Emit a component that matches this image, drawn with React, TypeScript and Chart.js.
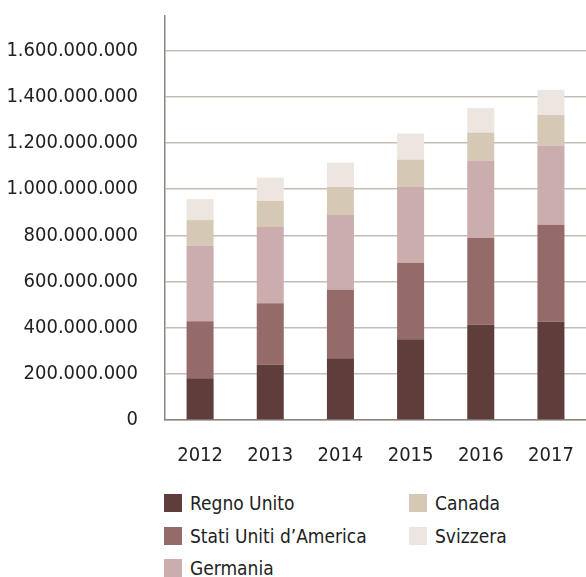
import React, { useEffect, useRef } from "react";
import { Chart, registerables } from "chart.js";

Chart.register(...registerables);

const years = ["2012", "2013", "2014", "2015", "2016", "2017"];
const regnoUnito = [181e6, 239e6, 268e6, 350e6, 413e6, 426e6];
const statiUniti = [247e6, 267e6, 296e6, 331e6, 375e6, 420e6];
const germania = [328e6, 330e6, 324e6, 329e6, 334e6, 343e6];
const canada = [110e6, 113e6, 122e6, 118e6, 123e6, 133e6];
const svizzera = [91e6, 101e6, 105e6, 113e6, 106e6, 108e6];

const yTickValues = [0, 2e8, 4e8, 6e8, 8e8, 1e9, 1.2e9, 1.4e9, 1.6e9];
const yMax = 1.75e9;

const seriesNames = ["Regno Unito", "Stati Uniti d\u2019America", "Germania", "Canada", "Svizzera"];
const seriesColors = ["#5f3d3b", "#956b69", "#cbadae", "#d5c9b5", "#ede6e0"];
const seriesData = [regnoUnito, statiUniti, germania, canada, svizzera];

const FONT = "'DejaVu Sans Condensed', 'Liberation Sans Narrow', sans-serif";

function fmt(v: number): string {
  return Math.round(v).toString().replace(/\B(?=(\d{3})+(?!\d))/g, ".");
}

export default function App() {
  const ref = useRef<HTMLCanvasElement | null>(null);

  useEffect(() => {
    if (!ref.current) return;
    const chart = new Chart(ref.current, {
      type: "bar",
      data: {
        labels: years,
        datasets: seriesNames.map((name, i) => ({
          label: name,
          data: seriesData[i],
          backgroundColor: seriesColors[i],
          borderWidth: 0,
          barPercentage: 0.385,
          categoryPercentage: 1,
        })),
      },
      options: {
        responsive: false,
        animation: false,
        devicePixelRatio: 1,
        layout: { padding: { top: 17, right: 2, left: 0, bottom: 0 } },
        plugins: {
          legend: { display: false },
          tooltip: { enabled: false },
        },
        scales: {
          x: {
            stacked: true,
            grid: { display: false, drawTicks: false },
            border: { color: "#8a8580", width: 1.5 },
            ticks: {
              color: "#222",
              font: { family: FONT, size: 20 },
              padding: 24,
              autoSkip: false,
              maxRotation: 0,
            },
            afterFit: (s: any) => {
              s.height = 50;
            },
          },
          y: {
            stacked: true,
            min: 0,
            max: yMax,
            grid: {
              color: "#c3bdb7",
              lineWidth: 1.5,
              drawTicks: false,
            },
            border: { color: "#8a8580", width: 1.5 },
            ticks: {
              color: "#222",
              font: { family: FONT, size: 20 },
              padding: 27,
              autoSkip: false,
              callback: (v: any) => fmt(Number(v)),
            },
            afterBuildTicks: (s: any) => {
              s.ticks = yTickValues.map((v) => ({ value: v }));
            },
            afterFit: (s: any) => {
              s.width = 165;
            },
          },
        },
      },
    });
    return () => chart.destroy();
  }, []);

  const columns = [[0, 1, 2], [3, 4]];
  const colX = [164, 409];
  const rowY = [493, 526, 558];

  return (
    <div style={{ position: "absolute", left: 0, top: 0, width: 586, height: 577, background: "#fff", overflow: "hidden" }}>
      <canvas ref={ref} width={598} height={493} style={{ position: "absolute", left: 0, top: -23 }} />
      {columns.map((col, ci) =>
        col.map((si, ri) => (
          <div
            key={si}
            style={{
              position: "absolute",
              left: colX[ci],
              top: rowY[ri],
              height: 19,
              display: "flex",
              alignItems: "center",
              fontFamily: FONT,
              fontSize: 19,
              color: "#222",
              whiteSpace: "nowrap",
            }}
          >
            <span style={{ width: 18, height: 18, background: seriesColors[si], display: "inline-block", marginRight: 8 }} />
            <span>{seriesNames[si]}</span>
          </div>
        ))
      )}
    </div>
  );
}
